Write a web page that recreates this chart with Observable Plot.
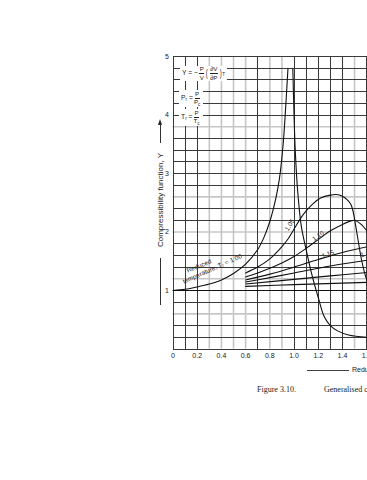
<!DOCTYPE html>
<html><head><meta charset="utf-8">
<script src="https://cdn.jsdelivr.net/npm/d3@7"></script>
<script src="https://cdn.jsdelivr.net/npm/@observablehq/plot@0.6"></script>
<style>
html,body{margin:0;padding:0;background:#fff;overflow:hidden;width:367px;height:480px;}
#wrap{position:relative;width:367px;height:480px;overflow:hidden;font-family:"Liberation Sans",Arial,sans-serif;color:#222;}
#chart{position:absolute;left:0;top:0;}
.fbox{position:absolute;background:#fff;font-size:6.8px;line-height:1;display:flex;align-items:center;white-space:nowrap;padding:0 2px;color:#222;}
.frac{display:inline-flex;flex-direction:column;align-items:center;margin:0 1px;font-size:6.2px;}
.num{border-bottom:0.8px solid #222;padding:0 0.5px 0.5px 0.5px;}
.den{padding-top:0.5px;}
.sub{font-size:4.6px;position:relative;top:1.5px;}
.paren{font-size:10px;transform:scaleX(0.6);display:inline-block;}
.abs{position:absolute;}
</style></head>
<body><div id="wrap">
<div id="chart"></div>
<div class="fbox" style="left:180px;top:66px;height:15px;">Y = −<span class="frac"><span class="num">P</span><span class="den">V</span></span><span class="paren">(</span><span class="frac"><span class="num">∂V</span><span class="den">∂P</span></span><span class="paren">)</span><span class="sub">T</span></div>
<div class="fbox" style="left:179px;top:90px;height:17px;">P<span class="sub">r</span>&nbsp;=<span class="frac"><span class="num">P</span><span class="den">P<span class="sub">c</span></span></span></div>
<div class="fbox" style="left:179px;top:109px;height:17px;">T<span class="sub">r</span>&nbsp;=<span class="frac"><span class="num">P</span><span class="den">T<span class="sub">c</span></span></span></div>
<div class="abs" style="left:157.5px;top:119px;width:0;height:0;border-left:2.5px solid transparent;border-right:2.5px solid transparent;border-bottom:6px solid #222;"></div>
<div class="abs" style="left:159.5px;top:124px;width:1px;height:19px;background:#333;"></div>
<div class="abs" style="left:160px;top:200px;font-size:8px;white-space:nowrap;transform:translate(-50%,-50%) rotate(-90deg);">Compressibility function, Y</div>
<div class="abs" style="left:159.5px;top:258px;width:1px;height:47px;background:#333;"></div>
<div class="abs" style="left:307px;top:370px;width:42px;height:1px;background:#444;"></div>
<div class="abs" style="left:352px;top:365.5px;font-size:7px;white-space:nowrap;">Reduced pressure, P<span class="sub">r</span></div>
<div class="abs" style="left:257px;top:385px;font-size:8px;white-space:nowrap;font-family:'Liberation Serif','Times New Roman',serif;">Figure 3.10.</div>
<div class="abs" style="left:324px;top:385px;font-size:8px;white-space:nowrap;font-family:'Liberation Serif','Times New Roman',serif;">Generalised compressibility chart</div>
</div>
<script>
// ---- data ----
const xTicks = [0, 0.2, 0.4, 0.6, 0.8, 1.0, 1.2, 1.4, 1.6];
const xTickLabels = ["0", "0.2", "0.4", "0.6", "0.8", "1.0", "1.2", "1.4", "1.6"];
const yTicks = [1, 2, 3, 4, 5];
const yTickLabels = ["1", "2", "3", "4", "5"];
const xGridAll = [0,0.1,0.2,0.3,0.4,0.5,0.6,0.7,0.8,0.9,1.0,1.1,1.2,1.3,1.4,1.5,1.6];
const xGridGrey = [0.3,0.4,0.5,0.6,0.8,0.9,1.5];
const yGridAll = [0,0.2,0.4,0.6,0.8,1.0,1.2,1.4,1.6,1.8,2.0,2.2,2.4,2.6,2.8,3.0,3.2,3.4,3.6,3.8,4.0,4.2,4.4,4.6,4.8,5.0];
const yGridGrey = [0.6,1.2,2.0,2.6,3.8];

// Reduced temperature Tr = 1.00 (two branches of the spike)
const tr100a = [[0,1.0],[0.1,1.02],[0.2,1.06],[0.3,1.11],[0.4,1.18],[0.5,1.29],[0.6,1.45],[0.7,1.70],[0.75,1.90],[0.8,2.18],[0.85,2.58],[0.88,2.92],[0.91,3.5],[0.93,4.1],[0.95,4.8]];
const tr100b = [[0.99,4.8],[1.0,4.0],[1.01,3.4],[1.03,2.7],[1.06,2.1],[1.1,1.7],[1.15,1.25],[1.2,0.88],[1.25,0.55],[1.3,0.40],[1.36,0.31],[1.45,0.24],[1.61,0.20]];
const tr105 = [[0.6,1.30],[0.7,1.40],[0.8,1.54],[0.9,1.75],[0.95,1.88],[1.0,2.05],[1.05,2.22],[1.1,2.36],[1.16,2.49],[1.22,2.58],[1.3,2.63],[1.35,2.64],[1.4,2.61],[1.44,2.55],[1.47,2.47],[1.49,2.33],[1.51,2.1],[1.53,1.85],[1.56,1.5],[1.59,1.25],[1.62,1.08]];
const tr110 = [[0.6,1.23],[0.7,1.30],[0.8,1.38],[0.9,1.47],[1.0,1.58],[1.1,1.72],[1.2,1.87],[1.3,2.02],[1.4,2.13],[1.47,2.19],[1.5,2.2],[1.55,2.14],[1.61,2.0]];
const tr115 = [[0.6,1.18],[0.8,1.28],[1.0,1.40],[1.2,1.53],[1.4,1.65],[1.61,1.75]];
const tr120 = [[0.6,1.145],[0.8,1.22],[1.0,1.30],[1.3,1.42],[1.61,1.52]];
const tr130 = [[0.6,1.11],[1.0,1.19],[1.3,1.25],[1.61,1.31]];
const tr150 = [[0.6,1.07],[1.0,1.10],[1.61,1.14]];

const labelText = ["1.05", "1.10", "1.15", "1.20", "Reduced", "temperature, Tᵣ = 1.00"];
const labelX = [0.965, 1.20, 1.28, 1.60, 0.215, 0.325];
const labelY = [2.12, 1.93, 1.62, 1.63, 1.42, 1.37];
const labelAngle = [-58, -36, -20, -14, -22, -24];

// ---- build tables ----
const series = [["1.00a", tr100a], ["1.00b", tr100b], ["1.05", tr105], ["1.10", tr110], ["1.15", tr115], ["1.20", tr120], ["1.30", tr130], ["1.50", tr150]];
const curves = series.flatMap(([k, pts]) => pts.map(([x, y]) => ({k, x, y})));
const labels = labelText.map((t, i) => ({t, x: labelX[i], y: labelY[i], r: labelAngle[i]}));
const xDark = xGridAll.filter(v => !xGridGrey.includes(v));
const yDark = yGridAll.filter(v => !yGridGrey.includes(v));

const chart = Plot.plot({
  width: 367, height: 362,
  marginLeft: 172.5, marginRight: 0, marginTop: 56, marginBottom: 13.5,
  x: {domain: [0, 1.607]},
  y: {domain: [0, 5]},
  style: {background: "white", fontFamily: "'Liberation Sans', Arial, sans-serif", fontSize: "7px", color: "#222", overflow: "hidden"},
  marks: [
    Plot.ruleX(xGridGrey, {stroke: "#c6c6c6", strokeWidth: 1.6}),
    Plot.ruleY(yGridGrey, {stroke: "#c6c6c6", strokeWidth: 1.6}),
    Plot.ruleX(xDark, {stroke: "#3a3a3a", strokeWidth: 1, shapeRendering: "crispEdges"}),
    Plot.ruleY(yDark, {stroke: "#3a3a3a", strokeWidth: 1, shapeRendering: "crispEdges"}),
    Plot.ruleY([1], {stroke: "#111", strokeWidth: 1.2, shapeRendering: "crispEdges"}),
    Plot.line(curves, {x: "x", y: "y", z: "k", curve: "catmull-rom", stroke: "#111", strokeWidth: 1.1}),
    Plot.text(labels, {x: "x", y: "y", text: "t", rotate: "r", fontSize: 6.5, fill: "#222"}),
    Plot.axisX({ticks: xTicks, tickSize: 0, tickPadding: 4, tickFormat: (d, i) => xTickLabels[i], label: null}),
    Plot.axisY({ticks: yTicks, tickSize: 0, tickPadding: 4, tickFormat: (d, i) => yTickLabels[i], label: null})
  ]
});
document.getElementById("chart").appendChild(chart);
</script>
</body></html>
